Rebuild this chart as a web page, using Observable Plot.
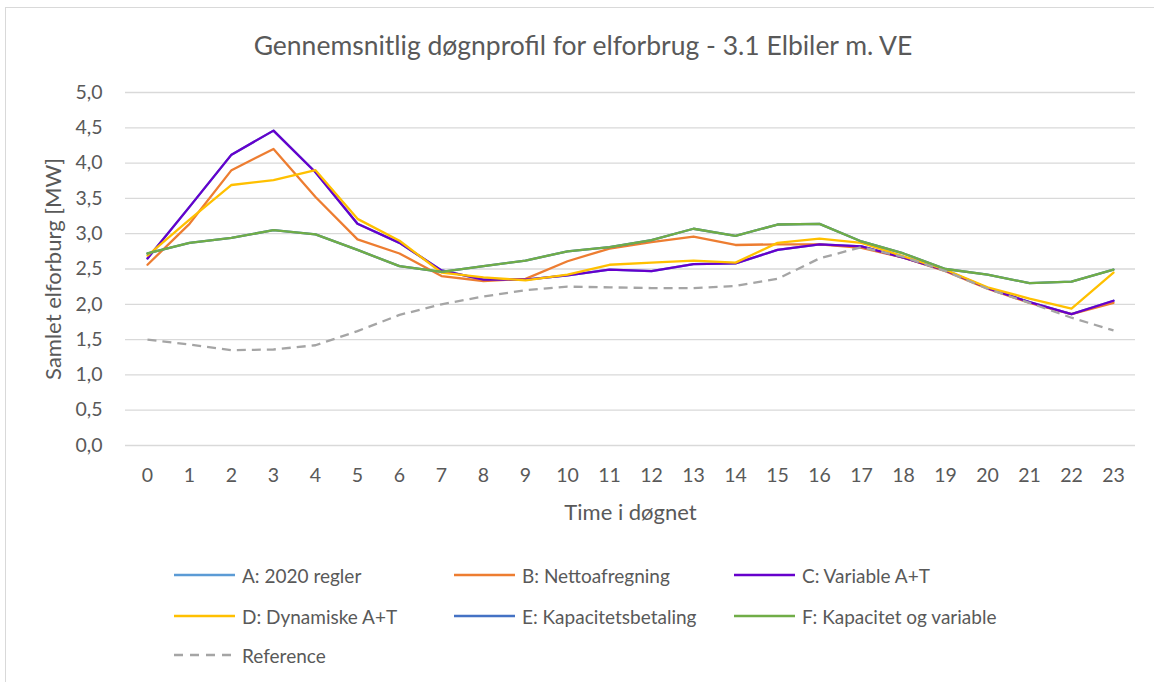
<!DOCTYPE html>
<html>
<head>
<meta charset="utf-8">
<script src="https://cdn.jsdelivr.net/npm/d3@7"></script>
<script src="https://cdn.jsdelivr.net/npm/@observablehq/plot@0.6"></script>
<style>
  html, body { margin: 0; padding: 0; background: #fff; }
  #wrap { position: relative; width: 1154px; height: 682px; overflow: hidden; font-family: Lato, "Noto Sans", sans-serif; color: #595959; }
  #frame { position: absolute; left: 5px; top: 7px; width: 1160px; height: 700px; border-left: 1.5px solid #d9d9d9; border-top: 1.5px solid #d9d9d9; }
  #title { position: absolute; left: 6px; width: 1154px; top: 29px; text-align: center; font-size: 26.5px; line-height: 32px; }
  #chart { position: absolute; left: 0; top: 0; }
  .leg { position: absolute; display: flex; align-items: center; font-size: 19px; white-space: nowrap; }
  .leg svg { margin-right: 7px; }
</style>
</head>
<body>
<div id="wrap">
  <div id="frame"></div>
  <div id="chart"></div>
  <div id="title">Gennemsnitlig døgnprofil for elforbrug - 3.1 Elbiler m. VE</div>
  <div id="legend"></div>
</div>
<script>
const hours = d3.range(0, 24);
const yTicks = [0, 0.5, 1, 1.5, 2, 2.5, 3, 3.5, 4, 4.5, 5];
const seriesNames = ["A: 2020 regler", "B: Nettoafregning", "C: Variable A+T", "D: Dynamiske A+T", "E: Kapacitetsbetaling", "F: Kapacitet og variable", "Reference"];
const seriesColors = ["#5B9BD5", "#ED7D31", "#6600CC", "#FFC000", "#4472C4", "#70AD47", "#A5A5A5"];

const valuesA = [2.65, 3.38, 4.12, 4.46, 3.87, 3.14, 2.87, 2.48, 2.35, 2.35, 2.41, 2.49, 2.47, 2.57, 2.58, 2.77, 2.85, 2.82, 2.66, 2.48, 2.23, 2.03, 1.86, 2.05];
const valuesB = [2.56, 3.14, 3.90, 4.20, 3.52, 2.92, 2.72, 2.40, 2.33, 2.36, 2.61, 2.79, 2.88, 2.96, 2.84, 2.85, 2.85, 2.80, 2.66, 2.47, 2.22, 2.02, 1.86, 2.02];
const valuesC = [2.65, 3.38, 4.12, 4.46, 3.87, 3.14, 2.87, 2.48, 2.35, 2.35, 2.41, 2.49, 2.47, 2.57, 2.58, 2.77, 2.85, 2.82, 2.66, 2.48, 2.23, 2.03, 1.86, 2.05];
const valuesD = [2.69, 3.20, 3.69, 3.76, 3.90, 3.21, 2.90, 2.45, 2.38, 2.34, 2.42, 2.56, 2.59, 2.62, 2.59, 2.87, 2.93, 2.87, 2.68, 2.49, 2.24, 2.08, 1.94, 2.45];
const valuesE = [2.72, 2.87, 2.94, 3.05, 2.99, 2.77, 2.54, 2.46, 2.54, 2.62, 2.75, 2.81, 2.91, 3.07, 2.97, 3.13, 3.14, 2.89, 2.72, 2.50, 2.42, 2.30, 2.32, 2.49];
const valuesF = [2.72, 2.87, 2.94, 3.05, 2.99, 2.77, 2.54, 2.46, 2.54, 2.62, 2.75, 2.81, 2.91, 3.07, 2.97, 3.13, 3.14, 2.89, 2.72, 2.50, 2.42, 2.30, 2.32, 2.49];
const valuesRef = [1.50, 1.43, 1.35, 1.36, 1.42, 1.62, 1.85, 2.00, 2.11, 2.20, 2.25, 2.24, 2.23, 2.23, 2.26, 2.36, 2.65, 2.81, 2.67, 2.47, 2.22, 2.02, 1.81, 1.63];

const allValues = [valuesA, valuesB, valuesC, valuesD, valuesE, valuesF, valuesRef];
const series = allValues.map((vals, i) => ({
  name: seriesNames[i], color: seriesColors[i], dashed: i === 6,
  data: hours.map((h, j) => ({hour: h, value: vals[j]}))
}));

const fmt = d => d.toFixed(1).replace(".", ",");

const chart = Plot.plot({
  width: 1154,
  height: 530,
  marginTop: 92,
  marginBottom: 85,
  marginLeft: 125,
  marginRight: 19,
  style: {fontFamily: "Lato, 'Noto Sans', sans-serif", fontSize: "19.5px", color: "#595959", background: "transparent"},
  x: {type: "point", domain: hours, padding: 0.5},
  y: {domain: [0, 5]},
  marks: [
    Plot.ruleY(yTicks, {stroke: "#d9d9d9", strokeWidth: 1.3}),
    Plot.axisY({ticks: yTicks, tickSize: 0, tickPadding: 23, tickFormat: fmt, label: null, fontSize: 19.5}),
    Plot.axisX({tickSize: 0, tickPadding: 23, label: null, fontSize: 19.5}),
    Plot.text(["Samlet elforburg [MW]"], {frameAnchor: "left", dx: -72, rotate: -90, textAnchor: "middle", lineAnchor: "middle", fontSize: 22, fill: "#595959"}),
    Plot.text(["Time i døgnet"], {frameAnchor: "bottom", dy: 67, textAnchor: "middle", lineAnchor: "middle", fontSize: 22, fill: "#595959"}),
    ...series.map(s => Plot.line(s.data, {
      x: "hour", y: "value", stroke: s.color, strokeWidth: 2.3,
      strokeDasharray: s.dashed ? "9,6" : null, strokeLinejoin: "round", strokeLinecap: s.dashed ? "butt" : "round"
    }))
  ]
});
document.getElementById("chart").appendChild(chart);

// legend
const legendPos = [
  [174, 575], [454, 575], [734, 575],
  [174, 616], [454, 616], [734, 616],
  [174, 655]
];
const legend = document.getElementById("legend");
series.forEach((s, i) => {
  const item = document.createElement("div");
  item.className = "leg";
  item.style.left = legendPos[i][0] + "px";
  item.style.top = (legendPos[i][1] - 12) + "px";
  item.style.height = "24px";
  item.innerHTML = `<svg width="61" height="6"><line x1="0" x2="61" y1="3" y2="3" stroke="${s.color}" stroke-width="2.3" ${s.dashed ? 'stroke-dasharray="9,7"' : ''}/></svg><span>${s.name}</span>`;
  legend.appendChild(item);
});
</script>
</body>
</html>
